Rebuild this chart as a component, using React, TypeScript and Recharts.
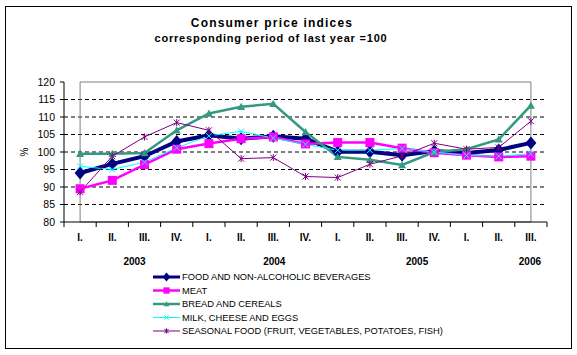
import React from 'react';
import { LineChart, Line, XAxis, YAxis, CartesianGrid, ReferenceArea } from 'recharts';

const quarters = ['I.', 'II.', 'III.', 'IV.', 'I.', 'II.', 'III.', 'IV.', 'I.', 'II.', 'III.', 'IV.', 'I.', 'II.', 'III.'];
const years = ['2003', '2004', '2005', '2006'];
const yearAtIndex = [2, 6, 10, 14];

const food = [94.0, 96.6, 98.8, 103.0, 104.8, 103.8, 104.5, 103.8, 100.1, 100.1, 99.1, 100.3, 99.7, 100.6, 102.6];
const meat = [89.5, 91.9, 96.4, 100.8, 102.4, 103.8, 104.3, 102.3, 102.7, 102.7, 101.1, 99.8, 99.1, 98.6, 98.8];
const bread = [99.5, 99.5, 99.7, 106.2, 111.0, 112.9, 113.8, 105.7, 98.6, 97.8, 96.3, 100.0, 100.8, 103.6, 113.3];
const milk = [95.9, 95.0, 97.1, 101.2, 104.6, 105.9, 104.0, 102.2, 100.5, 100.5, 101.0, 100.0, 99.0, 98.8, 99.5];
const seasonal = [88.6, 98.8, 104.3, 108.4, 106.2, 98.1, 98.4, 93.0, 92.7, 96.5, 98.9, 102.5, 100.8, 101.3, 108.8];

const yTicks = [80, 85, 90, 95, 100, 105, 110, 115, 120];
const gridValues = [85, 90, 95, 100, 105, 110, 115];

const seriesNames = [
  'FOOD AND NON-ALCOHOLIC BEVERAGES',
  'MEAT',
  'BREAD AND CEREALS',
  'MILK, CHEESE AND EGGS',
  'SEASONAL FOOD (FRUIT, VEGETABLES, POTATOES, FISH)',
];

const data = quarters.map((q, i) => ({
  key: String(i),
  food: food[i],
  meat: meat[i],
  bread: bread[i],
  milk: milk[i],
  seasonal: seasonal[i],
}));

const FONT = '"Liberation Sans", Arial, sans-serif';
const PLOT_W = 483;
const HALF_BAND = PLOT_W / quarters.length / 2;

type Shape = 'diamond' | 'square' | 'triangle' | 'x' | 'star';

const seriesStyle: { key: string; color: string; width: number; shape: Shape }[] = [
  { key: 'food', color: '#000080', width: 4, shape: 'diamond' },
  { key: 'meat', color: '#FF00FF', width: 2.5, shape: 'square' },
  { key: 'bread', color: '#339980', width: 2.5, shape: 'triangle' },
  { key: 'milk', color: '#00FFFF', width: 1, shape: 'x' },
  { key: 'seasonal', color: '#800080', width: 1, shape: 'star' },
];

function Marker({ cx, cy, shape, color, s = 1 }: { cx: number; cy: number; shape: Shape; color: string; s?: number }) {
  if (cx == null || cy == null) return null;
  switch (shape) {
    case 'diamond': {
      const w = 5.5 * s, h = 6.5 * s;
      return <polygon points={`${cx},${cy - h} ${cx + w},${cy} ${cx},${cy + h} ${cx - w},${cy}`} fill={color} />;
    }
    case 'square': {
      const h = 4.5 * s;
      return <rect x={cx - h} y={cy - h} width={2 * h} height={2 * h} fill={color} />;
    }
    case 'triangle': {
      const h = 4 * s;
      return <polygon points={`${cx},${cy - h} ${cx + h},${cy + h * 0.8} ${cx - h},${cy + h * 0.8}`} fill={color} />;
    }
    case 'x': {
      const h = 3 * s;
      return (
        <g stroke={color} strokeWidth={1}>
          <line x1={cx - h} y1={cy - h} x2={cx + h} y2={cy + h} />
          <line x1={cx - h} y1={cy + h} x2={cx + h} y2={cy - h} />
        </g>
      );
    }
    case 'star': {
      const h = 3 * s;
      return (
        <g stroke={color} strokeWidth={1}>
          <line x1={cx - h} y1={cy - h} x2={cx + h} y2={cy + h} />
          <line x1={cx - h} y1={cy + h} x2={cx + h} y2={cy - h} />
          <line x1={cx} y1={cy - h - 0.5} x2={cx} y2={cy + h + 0.5} />
        </g>
      );
    }
  }
  return null;
}

const yearOffsets = [-10, 1, 15, -1];

function QuarterTick(props: any) {
  const { x, y, payload, index } = props;
  const i = Number(payload?.value ?? index);
  const yi = yearAtIndex.indexOf(i);
  return (
    <g>
      <line x1={x - HALF_BAND} y1={y} x2={x - HALF_BAND} y2={y + 5} stroke="#000" />
      {i === quarters.length - 1 && <line x1={x + HALF_BAND} y1={y} x2={x + HALF_BAND} y2={y + 5} stroke="#000" />}
      <text x={x} y={y + 19} textAnchor="middle" fontFamily={FONT} fontSize={10} fontWeight="bold" fill="#000">
        {quarters[i]}
      </text>
      {yi >= 0 && (
        <text x={x + yearOffsets[yi]} y={y + 43} textAnchor="middle" fontFamily={FONT} fontSize={10} fontWeight="bold" fill="#000">
          {years[yi]}
        </text>
      )}
    </g>
  );
}

export default function App() {
  return (
    <div style={{ position: 'absolute', left: 0, top: 0, width: 577, height: 355, background: '#fff' }}>
      <svg width={577} height={355} style={{ position: 'absolute', left: 0, top: 0 }}>
        <rect x={5.5} y={6.5} width={566} height={342} fill="none" stroke="#000" strokeWidth={1} />
        <text x={272} y={27} textAnchor="middle" fontFamily={FONT} fontSize={12} fontWeight="bold" letterSpacing={1.2} fill="#000">
          Consumer price indices
        </text>
        <text x={271} y={42} textAnchor="middle" fontFamily={FONT} fontSize={11} fontWeight="bold" letterSpacing={0.8} fill="#000">
          corresponding period of last year =100
        </text>
        <text x={24} y={152} textAnchor="middle" dominantBaseline="central" fontFamily={FONT} fontSize={10} fill="#000" transform="rotate(-90 24 152)">
          %
        </text>
        {seriesStyle.map((st, i) => {
          const cy = 277 + i * 13.5;
          return (
            <g key={st.key}>
              <line x1={153} y1={cy} x2={180} y2={cy} stroke={st.color} strokeWidth={Math.min(st.width, 3)} />
              <Marker cx={166.5} cy={cy} shape={st.shape} color={st.color} s={0.7} />
              <text x={182} y={cy} dominantBaseline="central" fontFamily={FONT} fontSize={9.3} fill="#000">
                {seriesNames[i]}
              </text>
            </g>
          );
        })}
      </svg>
      <div style={{ position: 'absolute', left: 0, top: 0 }}>
        <LineChart width={577} height={355} data={data} margin={{ top: 82, right: 30, left: 0, bottom: 73 }}>
          <ReferenceArea y1={80} y2={120} fill="none" stroke="#808080" strokeWidth={1} ifOverflow="visible" />
          <CartesianGrid vertical={false} horizontalValues={gridValues} stroke="#000" strokeDasharray="4 3" />
          <XAxis
            dataKey="key"
            interval={0}
            height={60}
            tickLine={false}
            tickSize={0}
            tickMargin={0}
            axisLine={{ stroke: '#000' }}
            padding={{ left: HALF_BAND, right: HALF_BAND }}
            tick={<QuarterTick />}
          />
          <YAxis
            width={64}
            domain={[80, 120]}
            ticks={yTicks}
            interval={0}
            tickSize={4}
            tickMargin={5}
            axisLine={{ stroke: '#000' }}
            tickLine={{ stroke: '#000' }}
            tick={{ fontSize: 10.5, fill: '#000', fontFamily: FONT }}
          />
          {seriesStyle.map((st) => (
            <Line
              key={st.key}
              dataKey={st.key}
              type="linear"
              stroke={st.color}
              strokeWidth={st.width}
              isAnimationActive={false}
              activeDot={false}
              dot={(p: any) => (
                <Marker key={`${st.key}-${p.index}`} cx={p.cx} cy={p.cy} shape={st.shape} color={st.color} />
              )}
            />
          ))}
        </LineChart>
      </div>
    </div>
  );
}
